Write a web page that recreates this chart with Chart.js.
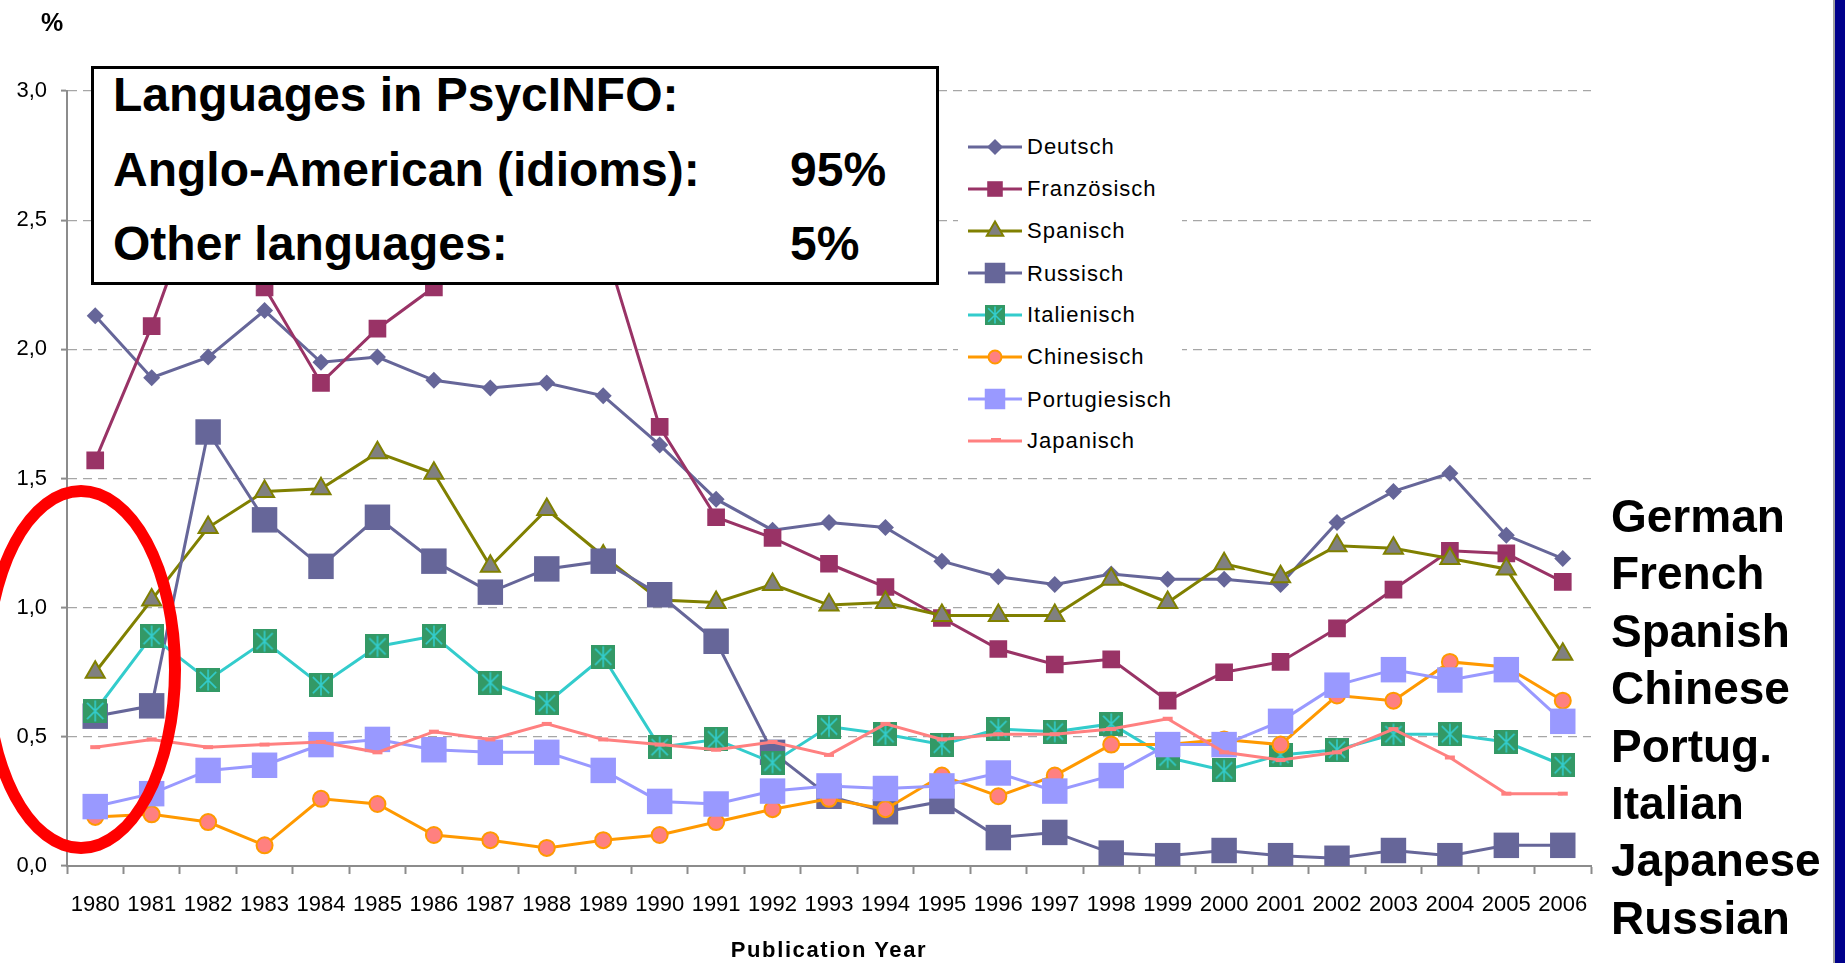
<!DOCTYPE html>
<html>
<head>
<meta charset="utf-8">
<script src="https://cdn.jsdelivr.net/npm/chart.js@4/dist/chart.umd.min.js"></script>
<style>
html,body{margin:0;padding:0;width:1845px;height:963px;overflow:hidden;background:#fff;}
#c{position:absolute;left:0;top:0;}
.t{position:absolute;white-space:nowrap;line-height:1;font-family:'Liberation Sans',Arial,sans-serif;color:#000;}
#box{position:absolute;left:91px;top:66px;width:848px;height:219px;box-sizing:border-box;border:3px solid #000;background:#fff;}
#legend{position:absolute;left:958px;top:120px;width:224px;height:345px;background:#fff;}
#ellipse{position:absolute;left:-19px;top:485px;width:200px;height:369px;box-sizing:border-box;border:12px solid #ff0000;border-radius:50%;}
#barline{position:absolute;left:1833px;top:0;width:2px;height:963px;background:#a0a0a0;}
#bar{position:absolute;left:1835px;top:0;width:10px;height:963px;background:#00008b;}
</style>
</head>
<body>
<canvas id="c" width="1845" height="963"></canvas>
<div id="box"></div>
<div id="legend"></div>
<div id="ellipse"></div>
<div id="barline"></div>
<div id="bar"></div>
<script>
// ---------- data ----------
const years = ['1980','1981','1982','1983','1984','1985','1986','1987','1988','1989','1990','1991','1992','1993','1994','1995','1996','1997','1998','1999','2000','2001','2002','2003','2004','2005','2006'];
const yTickLabels = ['0,0','0,5','1,0','1,5','2,0','2,5','3,0'];
const seriesNames = ['Deutsch','Französisch','Spanisch','Russisch','Italienisch','Chinesisch','Portugiesisch','Japanisch'];

const deutsch       = [2.13,1.89,1.97,2.15,1.95,1.97,1.88,1.85,1.87,1.82,1.63,1.42,1.30,1.33,1.31,1.18,1.12,1.09,1.13,1.11,1.11,1.09,1.33,1.45,1.52,1.28,1.19];
const franzoesisch  = [1.57,2.09,2.70,2.24,1.87,2.08,2.24,2.50,2.62,2.42,1.70,1.35,1.27,1.17,1.08,0.96,0.84,0.78,0.80,0.64,0.75,0.79,0.92,1.07,1.22,1.21,1.10];
const spanisch      = [0.75,1.03,1.31,1.45,1.46,1.60,1.52,1.16,1.38,1.20,1.03,1.02,1.09,1.01,1.02,0.97,0.97,0.97,1.11,1.02,1.17,1.12,1.24,1.23,1.19,1.15,0.82];
const russisch      = [0.58,0.62,1.68,1.34,1.16,1.35,1.18,1.06,1.15,1.18,1.05,0.87,0.44,0.27,0.21,0.25,0.11,0.13,0.05,0.04,0.06,0.04,0.03,0.06,0.04,0.08,0.08];
const italienisch   = [0.60,0.89,0.72,0.87,0.70,0.85,0.89,0.71,0.63,0.81,0.46,0.49,0.40,0.54,0.51,0.47,0.53,0.52,0.55,0.42,0.37,0.43,0.45,0.51,0.51,0.48,0.39];
const chinesisch    = [0.19,0.20,0.17,0.08,0.26,0.24,0.12,0.10,0.07,0.10,0.12,0.17,0.22,0.26,0.22,0.35,0.27,0.35,0.47,0.47,0.49,0.47,0.66,0.64,0.79,0.77,0.64];
const portugiesisch = [0.23,0.28,0.37,0.39,0.47,0.49,0.45,0.44,0.44,0.37,0.25,0.24,0.29,0.31,0.30,0.31,0.36,0.29,0.35,0.47,0.47,0.56,0.70,0.76,0.72,0.76,0.56];
const japanisch     = [0.46,0.49,0.46,0.47,0.48,0.44,0.52,0.49,0.55,0.49,0.47,0.45,0.48,0.43,0.55,0.49,0.51,0.51,0.53,0.57,0.44,0.41,0.44,0.53,0.42,0.28,0.28];

const boxTitle = 'Languages in PsycINFO:';
const boxRowLabels = ['Anglo-American (idioms):','Other languages:'];
const boxRowValues = ['95%','5%'];
const sideLabels = ['German','French','Spanish','Chinese','Portug.','Italian','Japanese','Russian'];
const yUnit = '%';
const xTitle = 'Publication Year';

// ---------- helpers ----------
const FONT = "'Liberation Sans', Arial, sans-serif";
function addText(txt, left, baseline, size, bold, extra){
  const d = document.createElement('div');
  d.className = 't';
  d.textContent = txt;
  d.style.left = left + 'px';
  d.style.top = (baseline - 0.8465*size) + 'px';
  d.style.fontSize = size + 'px';
  d.style.fontWeight = bold ? 'bold' : 'normal';
  if (extra) Object.assign(d.style, extra);
  document.body.appendChild(d);
  return d;
}
function italianMarker(size){
  const c = document.createElement('canvas');
  c.width = size; c.height = size;
  const g = c.getContext('2d');
  g.fillStyle = '#339966'; g.fillRect(0,0,size,size);
  g.strokeStyle = '#33cccc'; g.lineWidth = 1.6;
  const m = size*0.16;
  g.beginPath();
  g.moveTo(size/2, 1.5); g.lineTo(size/2, size-1.5);
  g.moveTo(m, m); g.lineTo(size-m, size-m);
  g.moveTo(size-m, m); g.lineTo(m, size-m);
  g.stroke();
  return c;
}
const itaBig = italianMarker(24);
const itaSmall = italianMarker(20);

// ---------- chart ----------
Chart.defaults.font.family = FONT;
Chart.defaults.color = '#000';

const seriesData = [deutsch, franzoesisch, spanisch, russisch, italienisch, chinesisch, portugiesisch, japanisch];
const seriesStyle = [
  {line:'#666699', fill:'#666699', border:'#666699', bw:0, style:'rectRot', r:8.5},
  {line:'#993366', fill:'#993366', border:'#993366', bw:0, style:'rect', r:12.5},
  {line:'#808000', fill:'#808080', border:'#808000', bw:2, style:'triangle', r:11},
  {line:'#666699', fill:'#666699', border:'#666699', bw:0, style:'rect', r:18},
  {line:'#33cccc', fill:'#339966', border:'#339966', bw:0, style:itaBig, r:12},
  {line:'#ff9900', fill:'#ff8080', border:'#ff9900', bw:2, style:'circle', r:8},
  {line:'#9999ff', fill:'#9999ff', border:'#9999ff', bw:0, style:'rect', r:18},
  {line:'#ff8080', fill:'#ff8080', border:'#ff8080', bw:4, style:'line', r:5}
];

const datasets = seriesNames.map((name, i) => ({
  label: name,
  data: seriesData[i],
  borderColor: seriesStyle[i].line,
  borderWidth: 3,
  backgroundColor: seriesStyle[i].fill,
  pointBackgroundColor: seriesStyle[i].fill,
  pointBorderColor: seriesStyle[i].border,
  pointBorderWidth: seriesStyle[i].bw,
  pointStyle: seriesStyle[i].style,
  pointRadius: seriesStyle[i].r,
  fill: false,
  tension: 0,
  order: seriesNames.length - 1 - i
}));

new Chart(document.getElementById('c'), {
  type: 'line',
  data: { labels: years, datasets: datasets },
  options: {
    responsive: false,
    animation: false,
    events: [],
    layout: { padding: { top: 91, right: 254, bottom: 0, left: 0 } },
    plugins: { legend: { display: false }, tooltip: { enabled: false } },
    scales: {
      x: {
        offset: true,
        grid: { offset: true, drawOnChartArea: false, drawTicks: true, tickLength: 8, tickWidth: 2, tickColor: '#8c8c8c', color: '#8c8c8c' },
        border: { display: true, color: '#8c8c8c', width: 2 },
        ticks: { font: { size: 22 }, color: '#000', padding: 18, maxRotation: 0, autoSkip: false },
        title: { display: false },
        afterFit(s) { s.height = 97; }
      },
      y: {
        min: 0, max: 3,
        ticks: { stepSize: 0.5, font: { size: 22 }, color: '#000', padding: 14,
                 callback: (v, i) => yTickLabels[i] },
        grid: { color: '#a6a6a6', lineWidth: 1.2, drawTicks: true, tickLength: 6, tickColor: '#8c8c8c', tickWidth: 2, tickBorderDash: [] },
        border: { display: true, color: '#8c8c8c', width: 2, dash: [9, 6] },
        afterFit(s) { s.width = 67; }
      }
    }
  }
});

// ---------- overlays ----------
addText(yUnit, 41, 31, 25, true);
addText(boxTitle, 113, 112, 48, true);
addText(boxRowLabels[0], 113, 187, 48, true);
addText(boxRowValues[0], 790, 187, 48, true);
addText(boxRowLabels[1], 113, 260.5, 48, true);
addText(boxRowValues[1], 790, 260.5, 48, true);

// axis title (centered under the plot area)
const xt = addText(xTitle, 829, 958, 22, true, { letterSpacing: '1.6px' });
xt.style.transform = 'translateX(-50%)';

sideLabels.forEach((s, i) => addText(s, 1611, 532 + i*57.4, 46, true));

// legend
const legendCenters = [146.7, 189, 231, 273.3, 315, 356.7, 399.3, 440.7];
const legendR = [8, 11, 9.5, 14.5, 10, 6.5, 14.5, 5];
seriesNames.forEach((name, i) => {
  const st = seriesStyle[i];
  const cv = document.createElement('canvas');
  cv.width = 58; cv.height = 30;
  cv.style.position = 'absolute';
  cv.style.left = '966px';
  cv.style.top = (legendCenters[i] - 15) + 'px';
  const g = cv.getContext('2d');
  g.strokeStyle = st.line; g.lineWidth = 3;
  g.beginPath(); g.moveTo(2, 15); g.lineTo(56, 15); g.stroke();
  const x = 29, y = 15, r = legendR[i];
  g.fillStyle = st.fill; g.strokeStyle = st.border; g.lineWidth = st.bw || 1;
  if (i === 0) { g.beginPath(); g.moveTo(x-r,y); g.lineTo(x,y-r); g.lineTo(x+r,y); g.lineTo(x,y+r); g.closePath(); g.fill(); }
  else if (i === 1 || i === 3 || i === 6) { const h = r*Math.SQRT1_2; g.fillRect(x-h, y-h, 2*h, 2*h); }
  else if (i === 2) { g.beginPath(); g.moveTo(x, y-r); g.lineTo(x+r*0.866, y+r*0.5); g.lineTo(x-r*0.866, y+r*0.5); g.closePath(); g.fill(); g.lineWidth = 2; g.stroke(); }
  else if (i === 4) { g.drawImage(itaSmall, x-10, y-10); }
  else if (i === 5) { g.beginPath(); g.arc(x, y, r, 0, Math.PI*2); g.fill(); g.lineWidth = 2; g.stroke(); }
  else if (i === 7) { g.lineWidth = 4; g.beginPath(); g.moveTo(x-4, y-1); g.lineTo(x+6, y-1); g.stroke(); }
  document.body.appendChild(cv);
  addText(name, 1027, legendCenters[i] + 7.9, 22, false, { letterSpacing: '1px' });
});
</script>
</body>
</html>
